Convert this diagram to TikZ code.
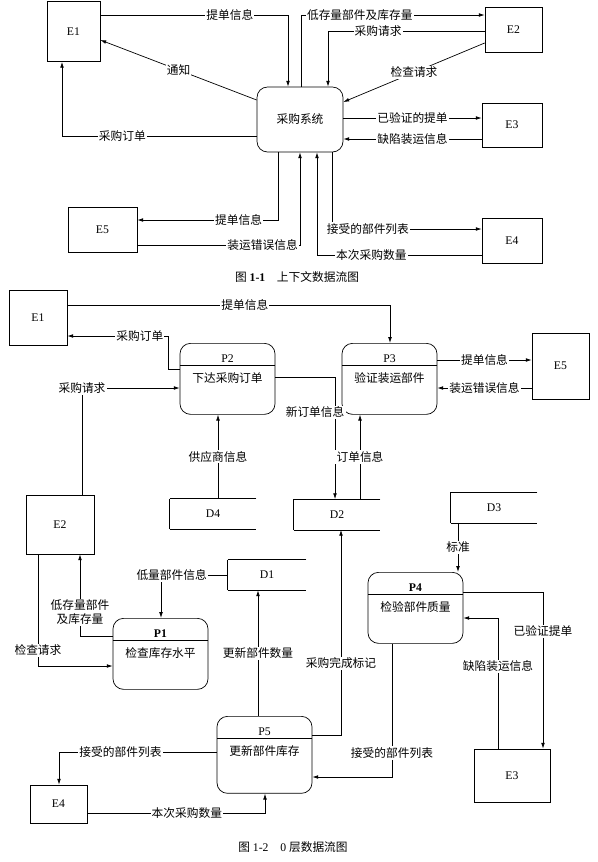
\documentclass[tikz,border=0pt]{standalone}
\usepackage{fontspec}
\setmainfont{Liberation Serif}
\newfontfamily\cjk{Noto Sans CJK SC}
\usetikzlibrary{arrows.meta}
\tikzset{
  entity/.style  = {rectangle,draw,inner sep=0pt,font=\normalsize},
  sysproc/.style = {rectangle,draw,rounded corners=9pt,font=\cjk,minimum width=2.58cm,minimum height=1.95cm},
  proc/.style    = {rectangle,draw,rounded corners=9pt,align=center,minimum width=2.85cm,inner ysep=0pt,
                    text height=33.3pt,text depth=27.3pt,
                    path picture={\draw ([yshift=-18.8pt]path picture bounding box.north west)
                                    -- ([yshift=-18.8pt]path picture bounding box.north east);}},
  store/.style   = {rectangle,inner sep=0pt,minimum width=2.58cm,minimum height=0.9cm,
                    append after command={(\tikzlastnode.north east) edge (\tikzlastnode.north west)
                      (\tikzlastnode.north west) edge (\tikzlastnode.south west)
                      (\tikzlastnode.south west) edge (\tikzlastnode.south east)}},
  lbl/.style     = {fill=white,inner sep=1pt,align=center,font=\cjk},
  flow/.style    = {-{Latex[length=5pt,width=3.2pt]}},
}

\begin{document}
\begin{tikzpicture}[x=0.03cm,y=-0.03cm,line width=0.6pt]
\useasboundingbox (0,0) rectangle (598,862);

% context diagram
\node[entity,minimum width=1.59cm,minimum height=1.8cm] (e1a) at (73.5,31.5) {E1};
\node[entity,minimum width=1.71cm,minimum height=1.35cm] (e2a) at (513.5,29.5) {E2};
\node[entity,minimum width=1.8cm,minimum height=1.32cm]  (e3a) at (512,125) {E3};
\node[entity,minimum width=2.07cm,minimum height=1.35cm] (e5a) at (102.5,229.5) {E5};
\node[entity,minimum width=1.8cm,minimum height=1.35cm]  (e4a) at (512,240.5) {E4};
\node[sysproc] (sys) at (300,119.5) {采购系统};

\draw[flow] (e1a.east |- 0,15) -- node[lbl,pos=.69] (t1) {提单信息} (288,15) -- (sys.north -| 288,0);
\draw[flow] (sys.west |- 0,100) -- node[lbl] (t2) {通知} (e1a.east |- 0,40);
\draw[flow] (sys.west |- 0,136) -- node[lbl,pos=.69] (t3) {采购订单} (62,136) -- (e1a.south -| 62,0);
\draw[flow] (sys.north -| 301,0) -- (301,15) -- node[lbl,pos=.32] (t4) {低存量部件及库存量} (e2a.west |- 0,15);
\draw[flow] (e2a.west |- 0,31) -- node[lbl,pos=.68] (t5) {采购请求} (328,31) -- (sys.north -| 328,0);
\draw[flow] (e2a.west |- 0,43) -- node[lbl] (t6) {检查请求} (sys.east |- 0,102);
\draw[flow] (sys.east |- 0,118) -- node[lbl] (t7) {已验证的提单} (e3a.west |- 0,118);
\draw[flow] (e3a.west |- 0,139) -- node[lbl] (t8) {缺陷装运信息} (sys.east |- 0,139);
\draw[flow] (sys.south -| 278,0) -- (278,220) -- node[lbl,pos=.28] (t9) {提单信息} (e5a.east |- 0,220);
\draw[flow] (e5a.east |- 0,245) -- node[lbl,pos=.77] (t10) {装运错误信息} (300,245) -- (sys.south -| 300,0);
\draw[flow] (sys.south -| 332,0) -- (332,229) -- node[lbl,pos=.24] (t11) {接受的部件列表} (e4a.west |- 0,229);
\draw[flow] (e4a.west |- 0,255) -- node[lbl,pos=.67] (t12) {本次采购数量} (317,255) -- (sys.south -| 317,0);

\node (cap1) at (297,277) {{\cjk 图} \textbf{1-1}\quad{\cjk 上下文数据流图}};

% level 0 diagram
\node[entity,minimum width=1.74cm,minimum height=1.65cm] (e1b) at (38,317.5) {E1};
\node[entity,minimum width=1.71cm,minimum height=1.98cm] (e5b) at (560.5,366) {E5};
\node[entity,minimum width=2.04cm,minimum height=1.77cm] (e2b) at (60,524.5) {E2};
\node[entity,minimum width=2.28cm,minimum height=1.59cm] (e3b) at (512,775.5) {E3};
\node[entity,minimum width=1.71cm,minimum height=1.14cm] (e4b) at (58.5,804) {E4};

\node[store] (d4) at (213,514) {D4};
\node[store] (d2) at (337,514.5) {D2};
\node[store] (d3) at (494,507.5) {D3};
\node[store,minimum width=2.34cm] (d1) at (267,575) {D1};

\node[proc,anchor=north] (p2) at (227.5,343) {P2\\[5pt]{\cjk 下达采购订单}};
\node[proc,anchor=north] (p3) at (389.5,343) {P3\\[5pt]{\cjk 验证装运部件}};
\node[proc,anchor=north] (p1) at (160.5,618) {\textbf{P1}\\[5pt]{\cjk 检查库存水平}};
\node[proc,anchor=north] (p4) at (415.5,572) {\textbf{P4}\\[5pt]{\cjk 检验部件质量}};
\node[proc,anchor=north,text depth=32.4pt] (p5) at (264.5,716) {P5\\[5pt]{\cjk 更新部件库存}};

\draw[flow] (e1b.east |- 0,305) -- node[lbl,pos=.55] (u1) {提单信息} (390,305) -- (p3.north -| 390,0);
\draw[flow] (p2.west |- 0,369) -- (168,369) -- (168,336) -- node[lbl,pos=.28] (u2) {采购订单} (e1b.east |- 0,336);
\draw[flow] (e2b.north -| 82,0) -- (82,388) node[lbl] (u3) {采购请求} -- (p2.west |- 0,388);
\draw[flow] (d4.north -| 218,0) -- node[lbl] (u4) {供应商信息} (p2.south -| 218,0);
\draw[flow] (p2.east |- 0,377) -- (335,377) -- node[lbl,pos=.29,xshift=-17pt] (u5) {新订单信息} (d2.north -| 335,0);
\draw[flow] (d2.north -| 360,0) -- node[lbl] (u6) {订单信息} (p3.south -| 360,0);
\draw[flow] (p3.east |- 0,360) -- node[lbl] (u7) {提单信息} (e5b.west |- 0,360);
\draw[flow] (e5b.west |- 0,388) -- node[lbl] (u8) {装运错误信息} (p3.east |- 0,388);
\draw[flow] (d3.south -| 458,0) -- node[lbl] (u9) {标准} (p4.north -| 458,0);
\draw[flow] (d1.west) -- node[lbl,pos=.84] (u10) {低量部件信息} (161,575) -- (p1.north -| 161,0);
\draw[flow] (p1.west |- 0,636) -- (80,636) -- node[lbl,pos=.29] (u11) {低存量部件\\及库存量} (e2b.south -| 80,0);
\draw[flow] (e2b.south -| 38,0) -- node[lbl,pos=.86] (u12) {检查请求} (38,666) -- (p1.west |- 0,666);
\draw[flow] (p5.north -| 258,0) -- node[lbl] (u13) {更新部件数量} (d1.south -| 258,0);
\draw[flow] (p5.east |- 0,735) -- (341,735) -- node[lbl,pos=.35] (u14) {采购完成标记} (d2.south -| 341,0);
\draw[flow] (p4.east |- 0,592) -- (543,592) -- node[lbl,pos=.25] (u15) {已验证提单} (e3b.north -| 543,0);
\draw[flow] (e3b.north -| 498,0) -- node[lbl,pos=.63] (u16) {缺陷装运信息} (498,618) -- (p4.east |- 0,618);
\draw[flow] (p4.south -| 392,0) -- node[lbl,pos=.82] (u17) {接受的部件列表} (392,777) -- (p5.east |- 0,777);
\draw[flow] (p5.west |- 0,752) -- node[lbl,pos=.61] (u18) {接受的部件列表} (59,752) -- (e4b.north -| 59,0);
\draw[flow] (e4b.east |- 0,813) -- node[lbl,pos=.56] (u19) {本次采购数量} (265,813) -- (p5.south -| 265,0);

\node (cap2) at (293,847) {{\cjk 图} 1-2\quad 0 {\cjk 层数据流图}};
\end{tikzpicture}
\end{document}
